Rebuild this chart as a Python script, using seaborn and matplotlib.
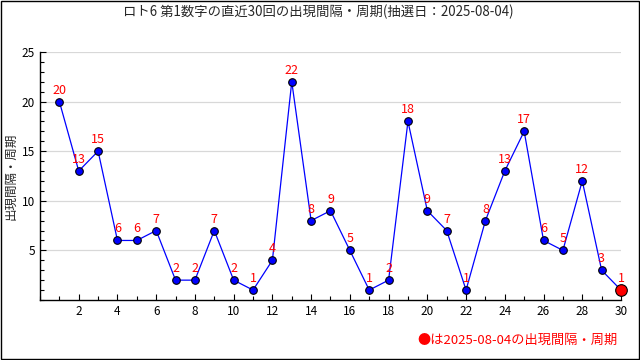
import numpy as np
import pandas as pd
import seaborn as sns
import matplotlib.pyplot as plt
from matplotlib.ticker import MultipleLocator
from matplotlib.patches import Rectangle

draws = list(range(1, 31))
intervals = [20, 13, 15, 6, 6, 7, 2, 2, 7, 2, 1, 4, 22, 8, 9, 5, 1, 2, 18, 9,
             7, 1, 8, 13, 17, 6, 5, 12, 3, 1]
title = "ロト6 第1数字の直近30回の出現間隔・周期(抽選日：2025-08-04)"
ylabel = "出現間隔・周期"
note = "●は2025-08-04の出現間隔・周期"

sns.set_theme(style="white")
plt.rcParams['font.family'] = ['Noto Sans CJK JP', 'DejaVu Sans']

df = pd.DataFrame({"draw": draws, "interval": intervals})

fig = plt.figure(figsize=(6.4, 3.6), dpi=100)
ax = fig.add_axes([0.0625, 0.1667, 0.9078, 0.689])

sns.lineplot(data=df, x="draw", y="interval", color="blue", lw=0.9, ax=ax)
sns.scatterplot(data=df.iloc[:-1], x="draw", y="interval", color="blue",
                edgecolor="black", linewidth=0.8, s=30, zorder=3, ax=ax)
sns.scatterplot(data=df.iloc[-1:], x="draw", y="interval", color="red",
                edgecolor="black", linewidth=0.8, s=70, zorder=4, ax=ax, clip_on=False)

for d, v in zip(draws, intervals):
    ax.text(d, v + 0.5, str(v), color="red", fontsize=9, ha="center", va="bottom")

ax.set_xlim(0, 30)
ax.set_ylim(0, 25)
ax.xaxis.set_minor_locator(MultipleLocator(1))
ax.yaxis.set_minor_locator(MultipleLocator(1))
ax.set_xticks(range(2, 31, 2))
ax.set_yticks(range(5, 26, 5))
ax.tick_params(which="both", direction="in", length=4, width=0.8, labelsize=8.5,
               bottom=True, left=True, colors="black")
ax.tick_params(which="minor", length=3)
ax.grid(axis="y", color="#d8d8d8", lw=0.9)
ax.set_axisbelow(True)
for s in ["top", "right"]:
    ax.spines[s].set_visible(False)
for s in ["left", "bottom"]:
    ax.spines[s].set_color("black")
    ax.spines[s].set_linewidth(1)
ax.set_xlabel("")
ax.set_ylabel(ylabel, fontsize=9, labelpad=3)

fig.text(0.497, 0.967, title, ha="center", va="center", fontsize=9.6)
fig.text(0.965, 0.055, note, ha="right", va="center", fontsize=9.5, color="red")
fig.patches.append(Rectangle((0.001, 0.002), 0.997, 0.996, transform=fig.transFigure,
                             fill=False, edgecolor="black", lw=1.0))

fig.savefig("out.png", dpi=100)
